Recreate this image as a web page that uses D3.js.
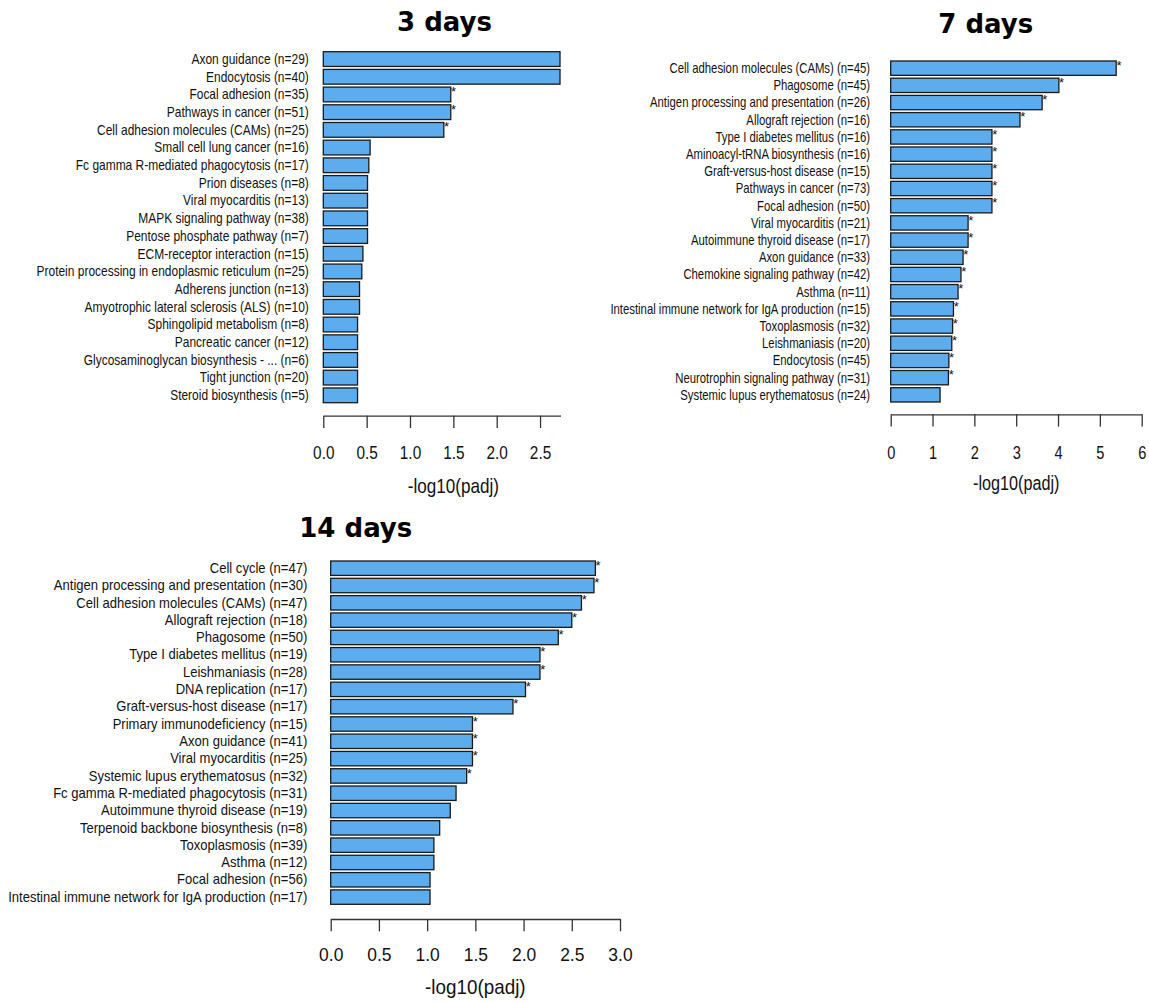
<!DOCTYPE html>
<html><head><meta charset="utf-8">
<script src="https://cdn.jsdelivr.net/npm/d3@7"></script>
<style>body{margin:0;background:#fff}svg{display:block}</style>
</head><body>
<svg id="c" width="1149" height="1002"></svg>
<script>
// ---------- data ----------
const titles = ["3 days", "7 days", "14 days"];
const axisTitle = "-log10(padj)";

const labels3 = ["Axon guidance (n=29)","Endocytosis (n=40)","Focal adhesion (n=35)","Pathways in cancer (n=51)","Cell adhesion molecules (CAMs) (n=25)","Small cell lung cancer (n=16)","Fc gamma R-mediated phagocytosis (n=17)","Prion diseases (n=8)","Viral myocarditis (n=13)","MAPK signaling pathway (n=38)","Pentose phosphate pathway (n=7)","ECM-receptor interaction (n=15)","Protein processing in endoplasmic reticulum (n=25)","Adherens junction (n=13)","Amyotrophic lateral sclerosis (ALS) (n=10)","Sphingolipid metabolism (n=8)","Pancreatic cancer (n=12)","Glycosaminoglycan biosynthesis - ... (n=6)","Tight junction (n=20)","Steroid biosynthesis (n=5)"];
const values3 = [2.73,2.73,1.47,1.47,1.39,0.54,0.525,0.51,0.51,0.51,0.51,0.457,0.444,0.418,0.418,0.395,0.395,0.395,0.395,0.395];
const sig3 = [1,1,1,1,1,0,0,0,0,0,0,0,0,0,0,0,0,0,0,0];
const ticks3 = [0,0.5,1,1.5,2,2.5,3];

const labels7 = ["Cell adhesion molecules (CAMs) (n=45)","Phagosome (n=45)","Antigen processing and presentation (n=26)","Allograft rejection (n=16)","Type I diabetes mellitus (n=16)","Aminoacyl-tRNA biosynthesis (n=16)","Graft-versus-host disease (n=15)","Pathways in cancer (n=73)","Focal adhesion (n=50)","Viral myocarditis (n=21)","Autoimmune thyroid disease (n=17)","Axon guidance (n=33)","Chemokine signaling pathway (n=42)","Asthma (n=11)","Intestinal immune network for IgA production (n=15)","Toxoplasmosis (n=32)","Leishmaniasis (n=20)","Endocytosis (n=45)","Neurotrophin signaling pathway (n=31)","Systemic lupus erythematosus (n=24)"];
const values7 = [5.39,4.02,3.62,3.09,2.42,2.42,2.42,2.42,2.42,1.85,1.85,1.73,1.68,1.61,1.50,1.48,1.46,1.39,1.38,1.18];
const sig7 = [1,1,1,1,1,1,1,1,1,1,1,1,1,1,1,1,1,1,1,0];
const ticks7 = [0,1,2,3,4,5,6];

const labels14 = ["Cell cycle (n=47)","Antigen processing and presentation (n=30)","Cell adhesion molecules (CAMs) (n=47)","Allograft rejection (n=18)","Phagosome (n=50)","Type I diabetes mellitus (n=19)","Leishmaniasis (n=28)","DNA replication (n=17)","Graft-versus-host disease (n=17)","Primary immunodeficiency (n=15)","Axon guidance (n=41)","Viral myocarditis (n=25)","Systemic lupus erythematosus (n=32)","Fc gamma R-mediated phagocytosis (n=31)","Autoimmune thyroid disease (n=19)","Terpenoid backbone biosynthesis (n=8)","Toxoplasmosis (n=39)","Asthma (n=12)","Focal adhesion (n=56)","Intestinal immune network for IgA production (n=17)"];
const values14 = [2.745,2.73,2.60,2.50,2.36,2.17,2.17,2.02,1.89,1.47,1.47,1.47,1.41,1.30,1.24,1.13,1.07,1.07,1.03,1.03];
const sig14 = [1,1,1,1,1,1,1,1,1,1,1,1,1,0,0,0,0,0,0,0];
const ticks14 = [0,0.5,1,1.5,2,2.5,3];

// ---------- layout ----------
const panels = [
  {title:titles[0], labels:labels3, values:values3, sig:sig3, ticks:ticks3, fmt:".1f",
   x0:323.3, x1:583.4, top:51.7, bottom:402.7, axisY:415.7, clipRight:561,
   labelGap:14.5, sx:0.855, titleX:444.5, titleY:31, tickLabY:453, axTitleY:486,
   fLab:14, fTick:18, fAx:20},
  {title:titles[1], labels:labels7, values:values7, sig:sig7, ticks:ticks7, fmt:"d",
   x0:890.7, x1:1141.7, top:61, bottom:402, axisY:414.3, clipRight:null,
   labelGap:20.7, sx:0.81, titleX:985.8, titleY:33, tickLabY:452, axTitleY:483.3,
   fLab:14, fTick:18, fAx:20},
  {title:titles[2], labels:labels14, values:values14, sig:sig14, ticks:ticks14, fmt:".1f",
   x0:330.7, x1:620, top:561, bottom:904.3, axisY:919, clipRight:null,
   labelGap:23.4, sx:0.92, titleX:355.8, titleY:536.7, tickLabY:954, axTitleY:986.7,
   fLab:14.2, fTick:19, fAx:20.5}
];

const svg = d3.select("#c");
const FONT = "'Liberation Sans', Arial, Helvetica, sans-serif";
const defs = svg.append("defs");

panels.forEach((p, i) => {
  const g = svg.append("g");
  const x = d3.scaleLinear().domain([p.ticks[0], p.ticks[p.ticks.length-1]]).range([p.x0, p.x1]);
  const y = d3.scaleBand().domain(p.labels).range([p.top, p.bottom]).paddingInner(0.2/1.2).paddingOuter(0);

  // title
  g.append("text").attr("x", p.titleX).attr("y", p.titleY)
    .attr("text-anchor","middle").attr("font-family","'DejaVu Sans', sans-serif")
    .attr("font-weight","bold").attr("font-size",26).attr("fill","#000").text(p.title);

  // category labels
  g.append("g").selectAll("text").data(p.labels).join("text")
    .attr("transform", d => `translate(${p.x0 - p.labelGap},${y(d) + y.bandwidth()/2}) scale(${p.sx},1)`)
    .attr("text-anchor","end").attr("dominant-baseline","central")
    .attr("font-family",FONT).attr("font-size",p.fLab).attr("fill","#111")
    .text(d => d);

  // plot area (clipped for panel 1)
  const pg = g.append("g");
  if (p.clipRight) {
    const id = "clip" + i;
    defs.append("clipPath").attr("id", id).append("rect")
      .attr("x", 0).attr("y", 0).attr("width", p.clipRight).attr("height", 1002);
    pg.attr("clip-path", `url(#${id})`);
  }

  pg.append("g").selectAll("rect").data(p.labels).join("rect")
    .attr("x", x(0)).attr("y", d => y(d))
    .attr("width", (d, k) => x(p.values[k]) - x(0))
    .attr("height", y.bandwidth())
    .attr("fill","#5CACEE").attr("stroke","#1a1a1a").attr("stroke-width",1.3);

  pg.append("g").selectAll("text").data(p.labels.filter((d,k)=>p.sig[k])).join("text")
    .attr("x", d => x(p.values[p.labels.indexOf(d)]) + 0.2)
    .attr("y", d => y(d) + 8.8)
    .attr("font-family",FONT).attr("font-size",13).attr("fill","#111")
    .text("*");

  // axis
  const ax = pg.append("g").attr("transform", `translate(0,${p.axisY})`)
    .call(d3.axisBottom(x).tickValues(p.ticks).tickFormat(d3.format(p.fmt)).tickSize(12.3).tickSizeOuter(0));
  ax.select(".domain").attr("stroke","#333").attr("stroke-width",1.3);
  ax.selectAll(".tick line").attr("stroke","#333").attr("stroke-width",1.3);
  ax.selectAll(".tick text")
    .attr("y", null).attr("dy", null)
    .attr("transform", `translate(0,${p.tickLabY - p.axisY}) scale(${p.sx},1)`)
    .attr("dominant-baseline","central")
    .attr("font-family",FONT).attr("font-size",p.fTick).attr("fill","#111");

  // axis title
  g.append("text")
    .attr("transform", `translate(${(p.x0+p.x1)/2},${p.axTitleY}) scale(${p.sx},1)`)
    .attr("text-anchor","middle").attr("dominant-baseline","central")
    .attr("font-family",FONT).attr("font-size",p.fAx).attr("fill","#111")
    .text(axisTitle);
});
</script>
</body></html>
